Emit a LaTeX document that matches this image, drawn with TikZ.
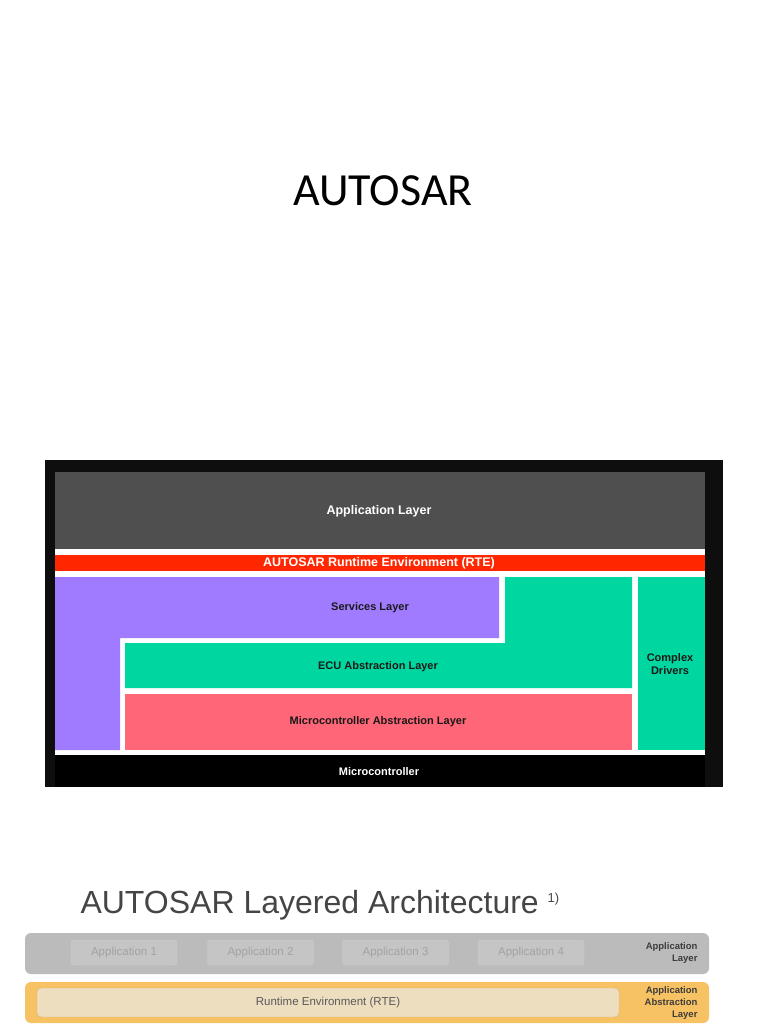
\documentclass[tikz,border=0pt]{standalone}
\usepackage{fontspec}
\setmainfont{Liberation Sans}
\newfontfamily\titlefont{Carlito}
\usepackage{tikz}
\definecolor{frameblk}{HTML}{0E0E0E}
\definecolor{appgrey}{HTML}{4F4F4F}
\definecolor{rtered}{HTML}{FF2600}
\definecolor{svcpurple}{HTML}{A17BFF}
\definecolor{ecugreen}{HTML}{00D69F}
\definecolor{mcalpink}{HTML}{FF6677}
\definecolor{bargrey}{HTML}{BBBBBB}
\definecolor{boxgrey}{HTML}{C5C5C5}
\definecolor{boxline}{HTML}{D0D0D0}
\definecolor{apptext}{HTML}{A2A2A2}
\definecolor{barorange}{HTML}{F7C263}
\definecolor{rtebeige}{HTML}{EEDEC0}
\definecolor{rteline}{HTML}{CFB27A}
\definecolor{lbldark}{HTML}{3C3C3C}
\tikzset{
  laybig/.style={font=\bfseries\fontsize{12.5}{14}\selectfont, text=white},
  laysmall/.style={font=\bfseries\fontsize{11}{13}\selectfont, text=black!90, align=center},
  appbox/.style={draw=boxline, fill=boxgrey, rounded corners=3pt, minimum width=106pt,
    minimum height=25pt, text=apptext, font=\fontsize{11.5}{13}\selectfont},
  sidelbl/.style={anchor=east, align=right, text=lbldark, font=\bfseries\fontsize{9.5}{12}\selectfont}
}
\begin{document}
\begin{tikzpicture}[x=1pt,y=-1pt]
\useasboundingbox (0,0) rectangle (768,1024);
%Заголовок
\node (title) at (383,191) {\titlefont\fontsize{46}{50}\selectfont AUTOSAR};
%Рамка и слои
\fill[frameblk] (45,460) rectangle (723,787);
\fill[white] (55,549) rectangle (705,755);
\fill[appgrey] (55,472) rectangle (705,549);
\fill[rtered] (55,555) rectangle (705,571);
\fill[svcpurple] (55,577) -- (499,577) -- (499,638) -- (120,638) -- (120,750) -- (55,750) -- cycle;
\fill[ecugreen] (505,577) -- (632,577) -- (632,688) -- (125,688) -- (125,643) -- (505,643) -- cycle;
\fill[mcalpink] (125,694) rectangle (632,750);
\fill[ecugreen] (638,577) rectangle (705,750);
\fill[black] (55,755) rectangle (705,787);
%Подписи слоев
\node[laybig] (applayer) at (379,511) {Application Layer};
\node[laybig] (rte) at (379,563) {AUTOSAR Runtime Environment (RTE)};
\node[laysmall] (services) at (370,608) {Services Layer};
\node[laysmall] (ecu) at (378,667) {ECU Abstraction Layer};
\node[laysmall] (mcal) at (378,722) {Microcontroller Abstraction Layer};
\node[laysmall] (cdd) at (670,664) {Complex\\Drivers};
\node[laybig, font=\bfseries\fontsize{11}{13}\selectfont] (mcu) at (379,772) {Microcontroller};
%Вторая схема
\node[anchor=base west, text=black!73, font=\fontsize{32}{36}\selectfont] (subtitle) at (77,913)
  {AUTOSAR Layered Architecture \raisebox{0.6ex}{\fontsize{13}{13}\selectfont 1)}};
\fill[bargrey, rounded corners=6pt] (25,933) rectangle (709,974);
\foreach \i/\x in {1/124,2/260.5,3/395.5,4/531}
  \node[appbox] (app\i) at (\x,952.5) {Application \i};
\node[sidelbl] (applbl) at (701,953.5) {Application\\Layer};
\fill[barorange, rounded corners=6pt] (25,982) rectangle (709,1023);
\node[draw=rteline, fill=rtebeige, rounded corners=4pt, minimum width=582pt, minimum height=29pt,
  text=black!65, font=\fontsize{11.5}{13}\selectfont] (rtebox) at (328,1002.5) {Runtime Environment (RTE)};
\node[sidelbl] (aallbl) at (701,1003) {Application\\Abstraction\\Layer};
\end{tikzpicture}
\end{document}
